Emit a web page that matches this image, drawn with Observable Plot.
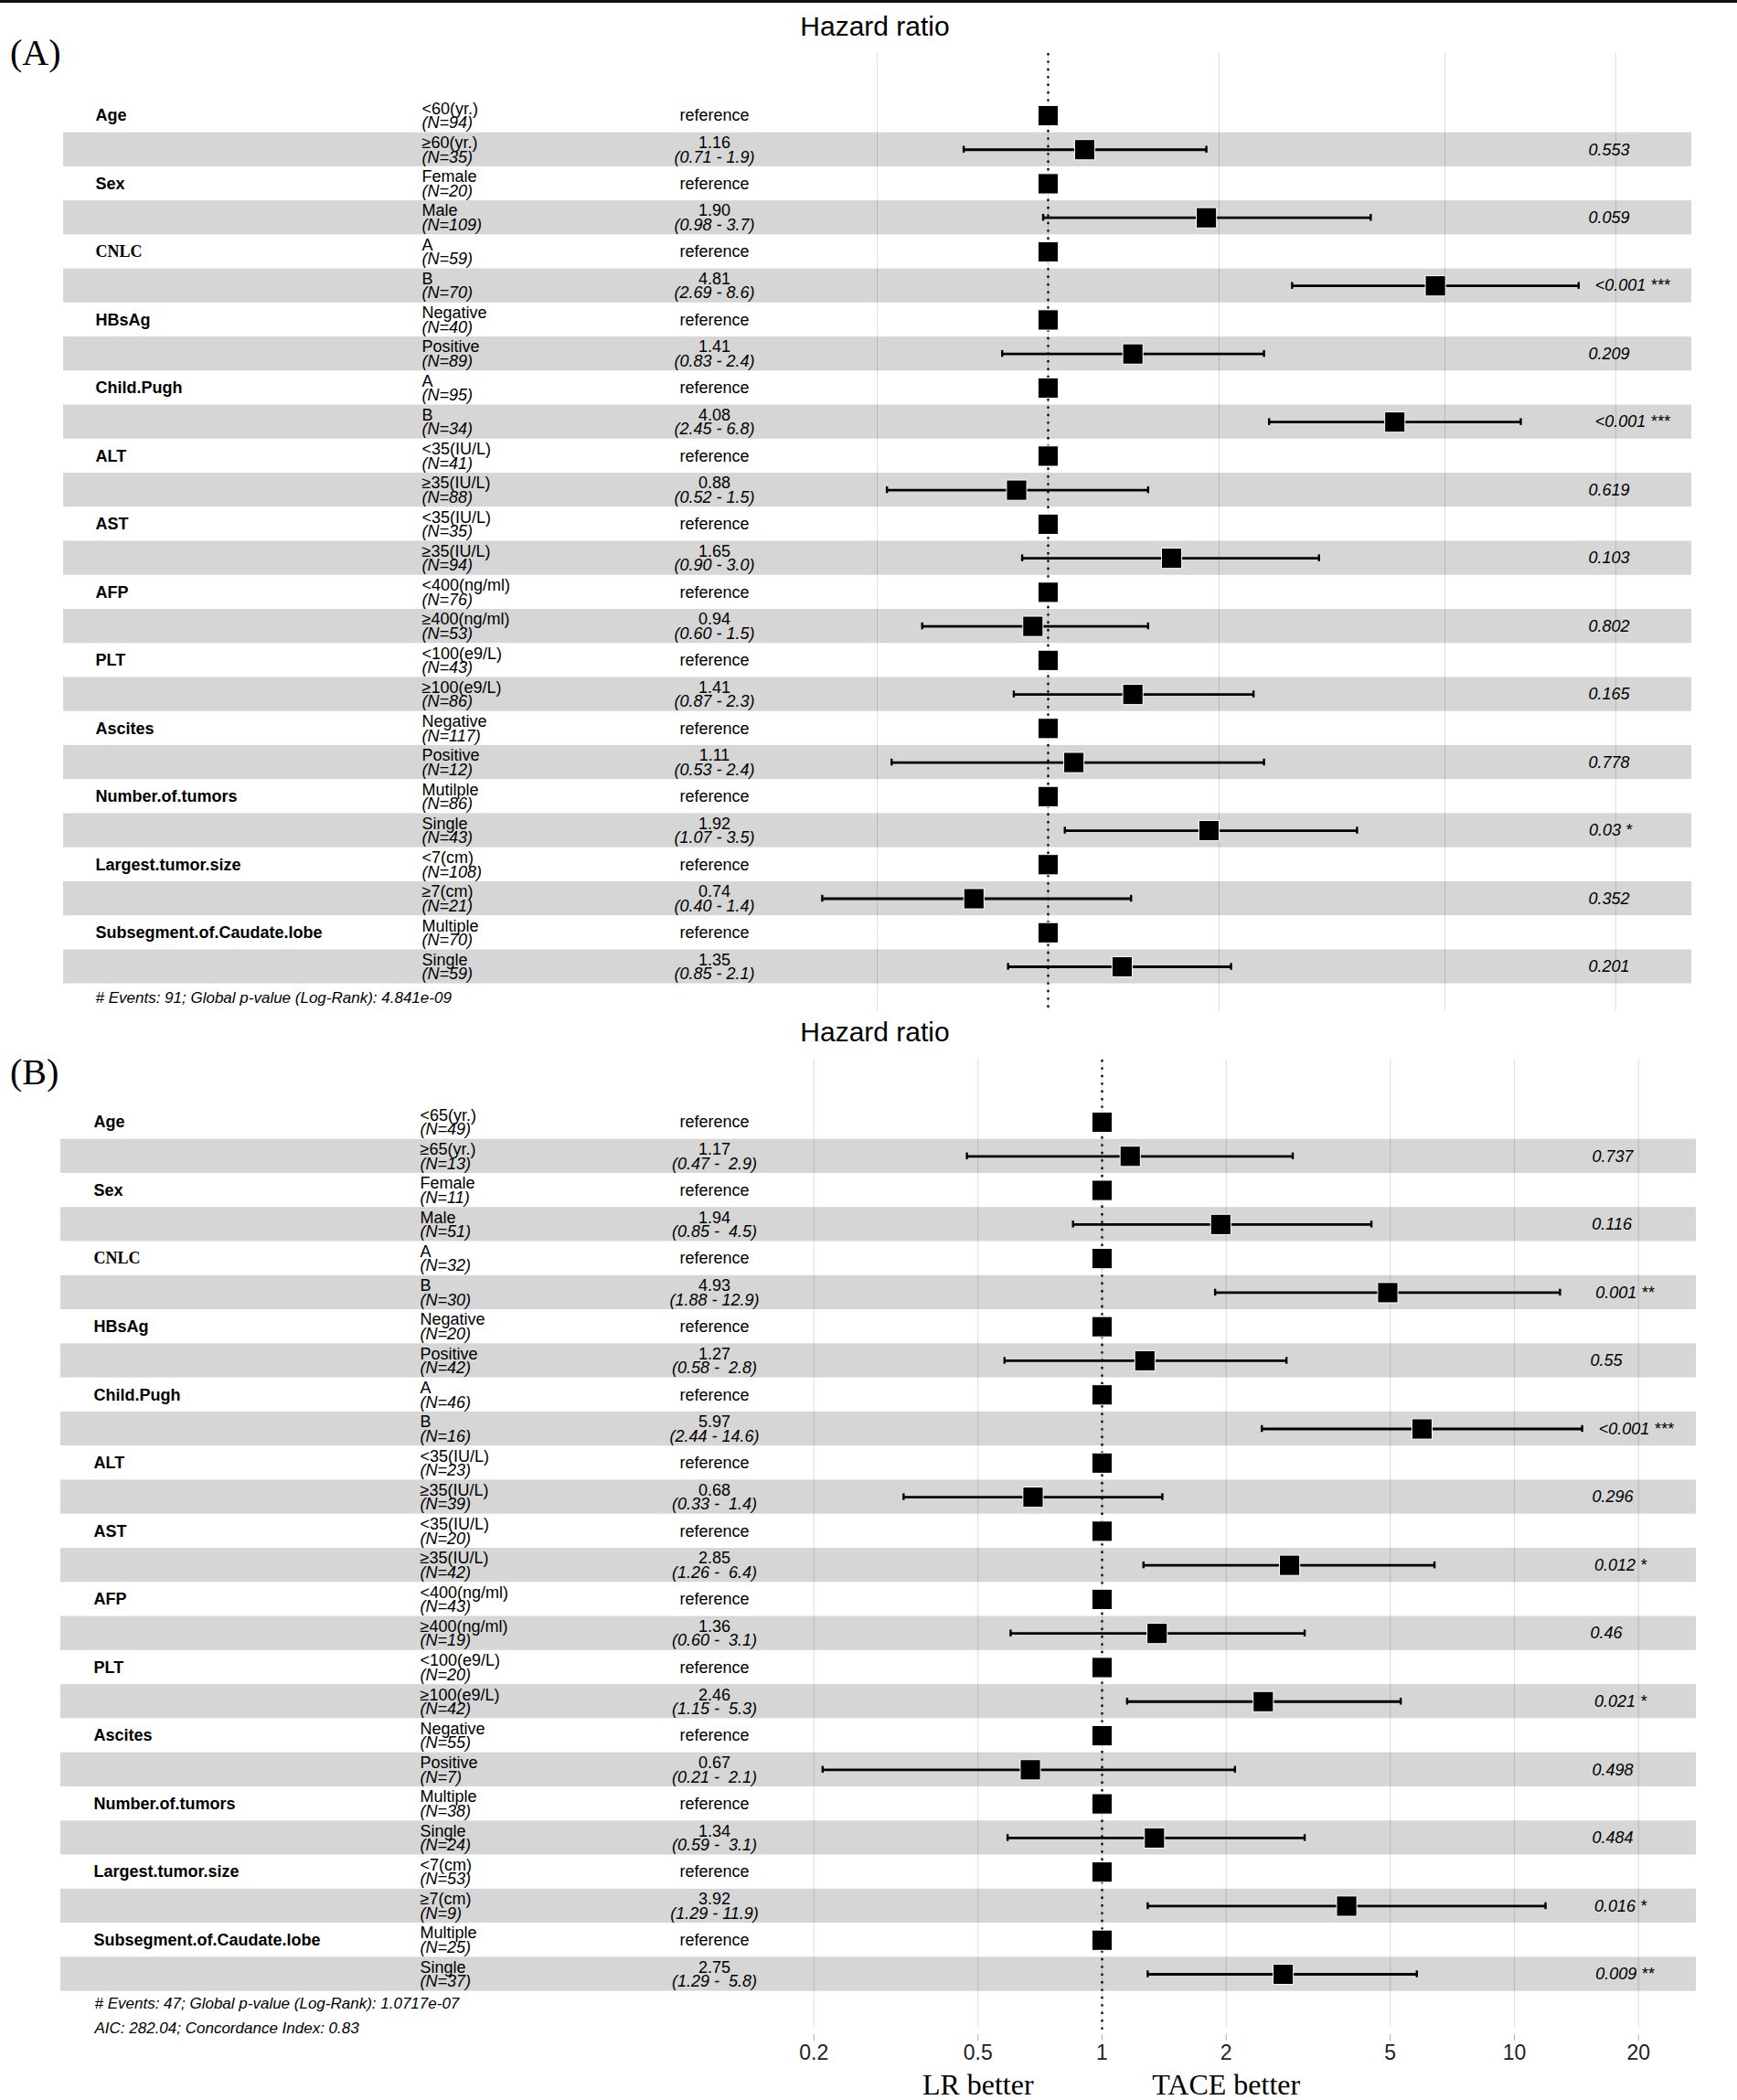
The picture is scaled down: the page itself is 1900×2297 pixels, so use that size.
<!DOCTYPE html>
<html>
<head>
<meta charset="utf-8">
<script src="https://cdn.jsdelivr.net/npm/d3@7"></script>
<script src="https://cdn.jsdelivr.net/npm/@observablehq/plot@0.6"></script>
<style>
  body { margin: 0; background: #fff; }
  #fig { position: relative; width: 1900px; height: 2297px; overflow: hidden; background: #fff; }
  #fig svg text { white-space: pre; }
  .lbl { position: absolute; white-space: nowrap; line-height: 1; color: #000; }
  .sans { font-family: "Liberation Sans", Arial, sans-serif; }
  .serif { font-family: "Liberation Serif", "Times New Roman", serif; }
  g[aria-label="x-axis tick"], g[aria-label="x-axis tick"] path, .tick line { stroke: #b0b0b0; }
</style>
</head>
<body>
<div id="fig">
  <div id="panelA" style="position:absolute;left:0;top:0"></div>
  <div id="panelB" style="position:absolute;left:0;top:1108px"></div>
  <div style="position:absolute;left:0;top:0;width:1900px;height:3px;background:#111"></div>
  <div class="lbl sans" style="left:957px;top:13.6px;font-size:30px;transform:translateX(-50%)">Hazard ratio</div>
  <div class="lbl sans" style="left:957px;top:1113.6px;font-size:30px;transform:translateX(-50%)">Hazard ratio</div>
  <div class="lbl serif" style="left:11px;top:37.5px;font-size:40px">(A)</div>
  <div class="lbl serif" style="left:11px;top:1152.5px;font-size:40px">(B)</div>
</div>
<script>
// ---------------- data ----------------
const variables = ["Age","Sex","CNLC","HBsAg","Child.Pugh","ALT","AST","AFP","PLT","Ascites","Number.of.tumors","Largest.tumor.size","Subsegment.of.Caudate.lobe"];

// Panel A
const levelsA = ["<60(yr.)","≥60(yr.)","Female","Male","A","B","Negative","Positive","A","B","<35(IU/L)","≥35(IU/L)","<35(IU/L)","≥35(IU/L)","<400(ng/ml)","≥400(ng/ml)","<100(e9/L)","≥100(e9/L)","Negative","Positive","Mutilple","Single","<7(cm)","≥7(cm)","Multiple","Single"];
const nA = [94,35,20,109,59,70,40,89,95,34,41,88,35,94,76,53,43,86,117,12,86,43,108,21,70,59];
const hrA = [1.16,1.90,4.81,1.41,4.08,0.88,1.65,0.94,1.41,1.11,1.92,0.74,1.35];
const loA = [0.71,0.98,2.69,0.83,2.45,0.52,0.90,0.60,0.87,0.53,1.07,0.40,0.85];
const hiA = [1.9,3.7,8.6,2.4,6.8,1.5,3.0,1.5,2.3,2.4,3.5,1.4,2.1];
const pA = ["0.553","0.059","<0.001 ***","0.209","<0.001 ***","0.619","0.103","0.802","0.165","0.778","0.03 *","0.352","0.201"];
const footA = ["# Events: 91; Global p-value (Log-Rank): 4.841e-09"];
const gridA = [0.5,1,2,5,10];

// Panel B
const levelsB = ["<65(yr.)","≥65(yr.)","Female","Male","A","B","Negative","Positive","A","B","<35(IU/L)","≥35(IU/L)","<35(IU/L)","≥35(IU/L)","<400(ng/ml)","≥400(ng/ml)","<100(e9/L)","≥100(e9/L)","Negative","Positive","Multiple","Single","<7(cm)","≥7(cm)","Multiple","Single"];
const nB = [49,13,11,51,32,30,20,42,46,16,23,39,20,42,43,19,20,42,55,7,38,24,53,9,25,37];
const hrB = [1.17,1.94,4.93,1.27,5.97,0.68,2.85,1.36,2.46,0.67,1.34,3.92,2.75];
const loB = [0.47,0.85,1.88,0.58,2.44,0.33,1.26,0.60,1.15,0.21,0.59,1.29,1.29];
const hiB = [2.9,4.5,12.9,2.8,14.6,1.4,6.4,3.1,5.3,2.1,3.1,11.9,5.8];
const pB = ["0.737","0.116","0.001 **","0.55","<0.001 ***","0.296","0.012 *","0.46","0.021 *","0.498","0.484","0.016 *","0.009 **"];
const footB = ["# Events: 47; Global p-value (Log-Rank): 1.0717e-07","AIC: 282.04; Concordance Index: 0.83"];
const gridB = [0.2,0.5,1,2,5,10,20];
const axisTicksB = [0.2,0.5,1,2,5,10,20];
const betterLabels = ["LR better","TACE better"];
const betterAt = [0.5, 2];

// ---------------- helpers ----------------
const SANS = "Liberation Sans, Arial, sans-serif";
const SERIF = "Liberation Serif, Times New Roman, serif";
const ctx = document.createElement("canvas").getContext("2d");
function textWidth(s, font) { ctx.font = font; return ctx.measureText(s).width; }

function buildRows(levels, ns, hr, lo, hi, p) {
  const hiStr = hi.map(v => v.toFixed(1));
  const w = d3.max(hiStr, s => s.length);
  const rows = [];
  variables.forEach((v, k) => {
    rows.push({i: 2*k, variable: v, level: levels[2*k], n: ns[2*k], ref: true, hr: 1});
    rows.push({i: 2*k+1, variable: v, level: levels[2*k+1], n: ns[2*k+1], ref: false,
      hr: hr[k], lo: lo[k], hi: hi[k], p: p[k],
      est: hr[k].toFixed(2), ci: `(${lo[k].toFixed(2)} - ${hiStr[k].padStart(w, " ")})`});
  });
  return rows;
}

function panel(cfg) {
  const rows = buildRows(cfg.levels, cfg.n, cfg.hr, cfg.lo, cfg.hi, cfg.p);
  const refs = rows.filter(d => d.ref), nonRef = rows.filter(d => !d.ref);
  const base = {y: "i", frameAnchor: "left", fontSize: 18, fill: "black", lineAnchor: "middle", fontFamily: SANS};
  const marks = [
    Plot.ruleX(cfg.grid, {stroke: "#dedede", strokeWidth: 1.1, insetBottom: cfg.gridInset || 0}),
    Plot.rect(nonRef, {y1: d => d.i - 0.5, y2: d => d.i + 0.5, fill: "black", fillOpacity: 0.16}),
    Plot.ruleX([1], {stroke: "black", strokeWidth: 2.3, strokeDasharray: "2.4,6"}),
    Plot.ruleY(nonRef, {x1: "lo", x2: "hi", y: "i", stroke: "black", strokeWidth: 2.8}),
    Plot.ruleX(nonRef, {x: "lo", y1: d => d.i - 0.1, y2: d => d.i + 0.1, stroke: "black", strokeWidth: 2.4}),
    Plot.ruleX(nonRef, {x: "hi", y1: d => d.i - 0.1, y2: d => d.i + 0.1, stroke: "black", strokeWidth: 2.4}),
    Plot.dot(rows, {x: "hr", y: "i", symbol: "square", r: 12.5, fill: "black", stroke: "white", strokeWidth: 1}),
    // variable names
    Plot.text(refs.filter(d => d.variable !== "CNLC"), {...base, text: "variable", dx: cfg.colVar, textAnchor: "start", fontWeight: "bold"}),
    Plot.text(refs.filter(d => d.variable === "CNLC"), {...base, text: "variable", dx: cfg.colVar, textAnchor: "start", fontWeight: "bold", fontFamily: SERIF}),
    // levels + N
    Plot.text(rows, {...base, text: "level", dx: cfg.colLevel, dy: -7.5, textAnchor: "start"}),
    Plot.text(rows, {...base, text: d => `(N=${d.n})`, dx: cfg.colLevel, dy: 8, textAnchor: "start", fontStyle: "italic"}),
    // estimates
    Plot.text(refs, {...base, text: () => "reference", dx: cfg.colEst, textAnchor: "middle"}),
    Plot.text(nonRef, {...base, text: "est", dx: cfg.colEst, dy: -7.5, textAnchor: "middle"}),
    Plot.text(nonRef, {...base, text: "ci", dx: cfg.colEst, dy: 8, textAnchor: "middle", fontStyle: "italic"}),
    // p-values (hjust = -0.2 as in ggforest)
    ...nonRef.map(d => Plot.text([d], {...base, text: "p", textAnchor: "start", fontStyle: "italic",
      dx: cfg.colP + 0.2 * textWidth(d.p, "italic 18px 'Liberation Sans'")})),
    // footnotes
    ...cfg.foot.map((f, j) => Plot.text([f], {frameAnchor: "bottom-left", lineAnchor: "middle", text: d => d,
      dx: cfg.colFoot, dy: cfg.footDy[j], fontSize: 17, fontStyle: "italic", fill: "black", textAnchor: "start", fontFamily: SANS})),
    ...(cfg.extra || [])
  ];
  return Plot.plot({
    width: 1900,
    height: cfg.height,
    marginTop: cfg.marginTop,
    marginBottom: cfg.marginBottom,
    marginLeft: cfg.marginLeft,
    marginRight: cfg.marginRight,
    style: {fontFamily: SANS, fontSize: "23px", background: "transparent", color: "#222", overflow: "visible"},
    x: cfg.x,
    y: {type: "linear", domain: [0, 25], range: cfg.yRange, axis: null},
    marks
  });
}

const plotA = panel({
  levels: levelsA, n: nA, hr: hrA, lo: loA, hi: hiA, p: pA, foot: footA, grid: gridA,
  height: 1110, marginTop: 58, marginBottom: 5, marginLeft: 69, marginRight: 50,
  x: {type: "log", domain: [1, 10], range: [1146, 1767], axis: null},
  yRange: [126, 1057],
  colVar: 35, colLevel: 392, colEst: 712, colP: 1659, colFoot: 35, footDy: [-14]
});
document.getElementById("panelA").appendChild(plotA);

const plotB = panel({
  levels: levelsB, n: nB, hr: hrB, lo: loB, hi: hiB, p: pB, foot: footB, grid: gridB, gridInset: 8,
  height: 1189, marginTop: 51, marginBottom: 72, marginLeft: 66, marginRight: 45,
  x: {type: "log", domain: [1, 10], range: [1205, 1656], ticks: axisTicksB, tickFormat: d => String(d),
      tickSize: 7, tickPadding: 4, label: null, grid: false},
  yRange: [119, 1051],
  colVar: 36, colLevel: 393, colEst: 715, colP: 1666, colFoot: 37, footDy: [-34, -7],
  extra: [
    Plot.text(betterAt, {x: d => d, text: (d, i) => betterLabels[i], frameAnchor: "bottom", lineAnchor: "middle",
      dy: 55, fontSize: 32, fontFamily: SERIF, fill: "black", textAnchor: "middle"})
  ]
});
document.getElementById("panelB").appendChild(plotB);
</script>
</body>
</html>
